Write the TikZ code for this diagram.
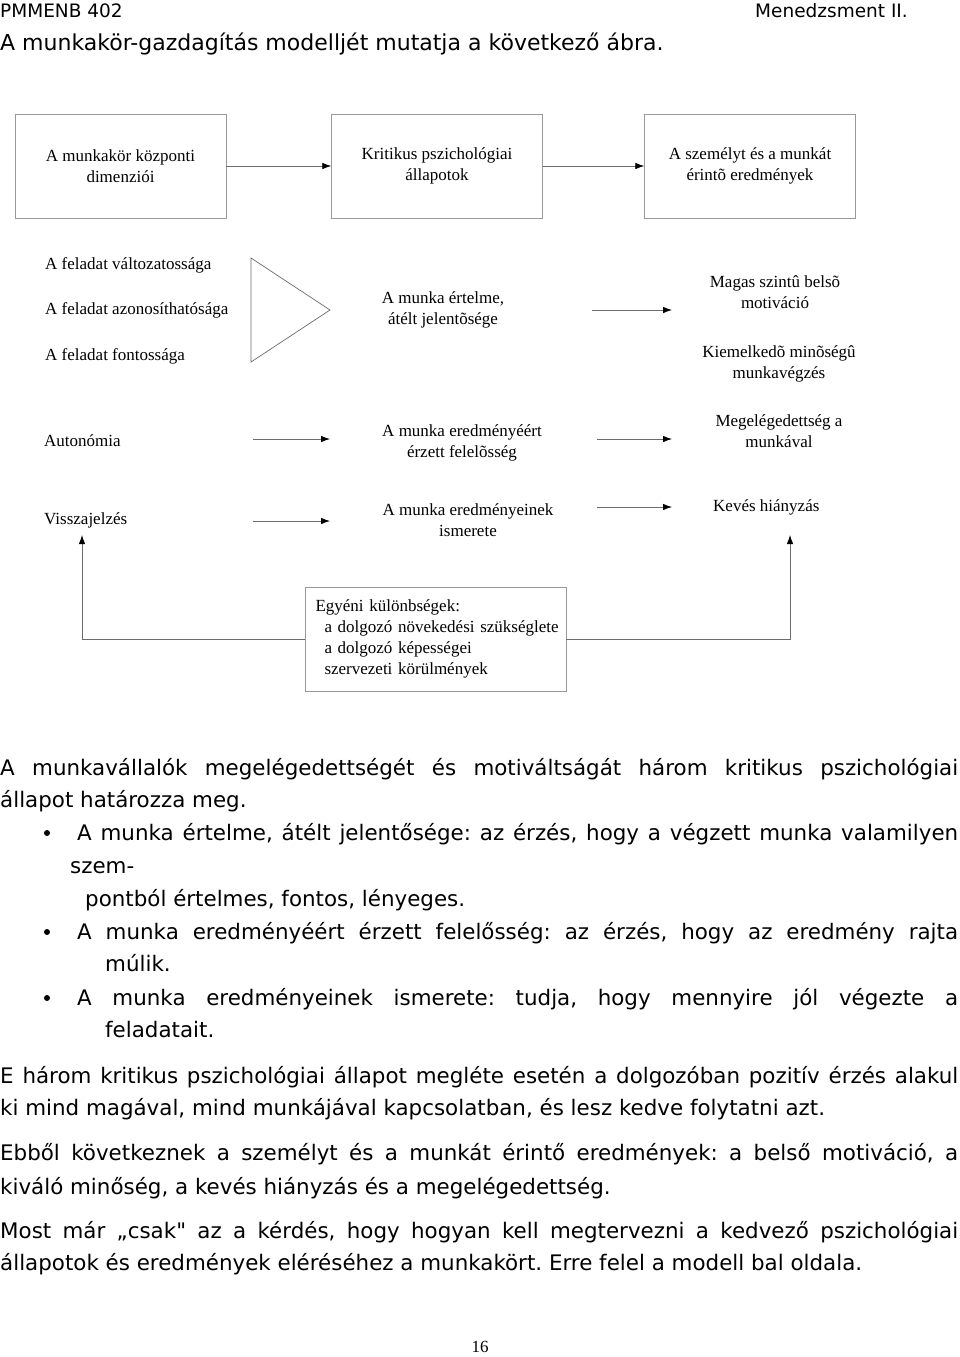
\documentclass[tikz,border=0pt]{standalone}
\usepackage{fontspec}
\setmainfont{Liberation Serif}
\newfontfamily\comic{DejaVu Sans}
\usetikzlibrary{arrows.meta}
\frenchspacing
\begin{document}
\begin{tikzpicture}[x=1pt,y=-1pt,
  dtext/.style={font=\fontsize{17}{21}\selectfont, align=center, inner sep=0pt},
  ltext/.style={font=\fontsize{17}{21}\selectfont, anchor=west, inner sep=0pt},
  bodyl/.style={font=\comic\fontsize{21.4}{24}\selectfont, anchor=base west, inner sep=0pt},
  headl/.style={font=\comic\fontsize{18.5}{20}\selectfont, anchor=base west, inner sep=0pt},
  boxn/.style={draw=gray!80, minimum width=211pt, minimum height=104pt, align=center, font=\fontsize{17}{21}\selectfont},
  arr/.style={draw=gray!85!black, line width=0.8pt, -{Latex[length=9pt,width=6.5pt,color=black,fill=black]}},
  bul/.style={circle, fill=black, inner sep=0pt, minimum size=6pt}]
\useasboundingbox[fill=white] (0,0) rectangle (960,1357);

% header
\node[headl] (h1) at (0,17) {PMMENB 402};
\node[headl, anchor=base east] (h2) at (908,17) {Menedzsment II.};
\node[bodyl, font=\comic\fontsize{22}{24}\selectfont] (h3) at (0,50) {A munkakör-gazdagítás modelljét mutatja a következő ábra.};

% top boxes
\node[boxn] (b1) at (120.5,166) {A munkakör központi\\dimenziói};
\node[boxn] (b2) at (437,166) {Kritikus pszichológiai\\állapotok};
\node[boxn] (b3) at (750,166) {A személyt és a munkát\\érintõ eredmények};
\draw[arr] (b1.east) -- (b2.west);
\draw[arr] (b2.east) -- (b3.west);

% row 1
\node[ltext] (f1) at (45,265) {A feladat változatossága};
\node[ltext] (f2) at (45,310) {A feladat azonosíthatósága};
\node[ltext] (f3) at (45,356) {A feladat fontossága};
\draw[gray!85!black, line width=0.7pt] (251,258) -- (330,310) -- (251,362) -- cycle;
\node[dtext] (m1) at (443,310) {A munka értelme,\\átélt jelentõsége};
\coordinate (a1s) at (592,310);
\coordinate (a1e) at (672,310);
\draw[arr] (a1s) -- (a1e);
\node[dtext] (o1) at (775,292) {Magas szintû belsõ\\motiváció};
\node[dtext] (o2) at (779,364) {Kiemelkedõ minõségû\\munkavégzés};

% row 2
\node[ltext] (au) at (44,441) {Autonómia};
\node[dtext] (m2) at (462,443) {A munka eredményéért\\érzett felelõsség};
\node[dtext] (o3) at (779,431) {Megelégedettség a\\munkával};
\coordinate (a2s) at (253,439);
\coordinate (a2e) at (330,439);
\coordinate (a3s) at (597,439);
\coordinate (a3e) at (672,439);
\draw[arr] (a2s) -- (a2e);
\draw[arr] (a3s) -- (a3e);

% row 3
\node[ltext] (vj) at (44,520) {Visszajelzés};
\node[dtext] (m3) at (468,520) {A munka eredményeinek\\ismerete};
\node[ltext] (kh) at (713,507) {Kevés hiányzás};
\coordinate (a4s) at (253,521);
\coordinate (a4e) at (330,521);
\coordinate (a5s) at (597,507);
\coordinate (a5e) at (672,507);
\draw[arr] (a4s) -- (a4e);
\draw[arr] (a5s) -- (a5e);

% individual differences box
\node[draw=gray!80, text width=252pt, inner xsep=4.5pt, minimum height=104pt, align=left,
      font=\fontsize{17}{21}\selectfont] (eg) at (435.5,639)
  {\hspace*{6pt}Egyéni különbségek:\\\hspace*{15pt}a dolgozó növekedési szükséglete\\\hspace*{15pt}a dolgozó képességei\\\hspace*{15pt}szervezeti körülmények};
\coordinate (vb) at (82,535);
\coordinate (kb) at (790,535);
\draw[arr] (eg.west) -| (vb);
\draw[arr] (eg.east) -| (kb);

% body text
\node[bodyl] (t1) at (0,775) {\makebox[958pt][s]{A munkavállalók megelégedettségét és motiváltságát három kritikus pszichológiai}};
\node[bodyl] (t2) at (0,807) {állapot határozza meg.};
\node[bul] (u1) at (47,833) {};
\node[bodyl] (t3) at (77,840) {\makebox[881pt][s]{A munka értelme, átélt jelentősége: az érzés, hogy a végzett munka valamilyen}};
\node[bodyl] (t4) at (70,873) {szem-};
\node[bodyl] (t5) at (85,906) {pontból értelmes, fontos, lényeges.};
\node[bul] (u2) at (47,932) {};
\node[bodyl] (t6) at (77,939) {\makebox[881pt][s]{A munka eredményéért érzett felelősség: az érzés, hogy az eredmény rajta}};
\node[bodyl] (t7) at (105,971) {múlik.};
\node[bul] (u3) at (47,998) {};
\node[bodyl] (t8) at (77,1005) {\makebox[881pt][s]{A munka eredményeinek ismerete: tudja, hogy mennyire jól végezte a}};
\node[bodyl] (t9) at (105,1037) {feladatait.};
\node[bodyl] (t10) at (0,1083) {\makebox[958pt][s]{E három kritikus pszichológiai állapot megléte esetén a dolgozóban pozitív érzés alakul}};
\node[bodyl] (t11) at (0,1115) {ki mind magával, mind munkájával kapcsolatban, és lesz kedve folytatni azt.};
\node[bodyl] (t12) at (0,1160) {\makebox[958pt][s]{Ebből következnek a személyt és a munkát érintő eredmények: a belső motiváció, a}};
\node[bodyl] (t13) at (0,1194) {kiváló minőség, a kevés hiányzás és a megelégedettség.};
\node[bodyl] (t14) at (0,1238) {\makebox[958pt][s]{Most már „csak" az a kérdés, hogy hogyan kell megtervezni a kedvező pszichológiai}};
\node[bodyl] (t15) at (0,1270) {állapotok és eredmények eléréséhez a munkakört. Erre felel a modell bal oldala.};
\node[font=\fontsize{17}{20}\selectfont, anchor=base, inner sep=0pt] (pg) at (480,1352) {16};
\end{tikzpicture}
\end{document}
